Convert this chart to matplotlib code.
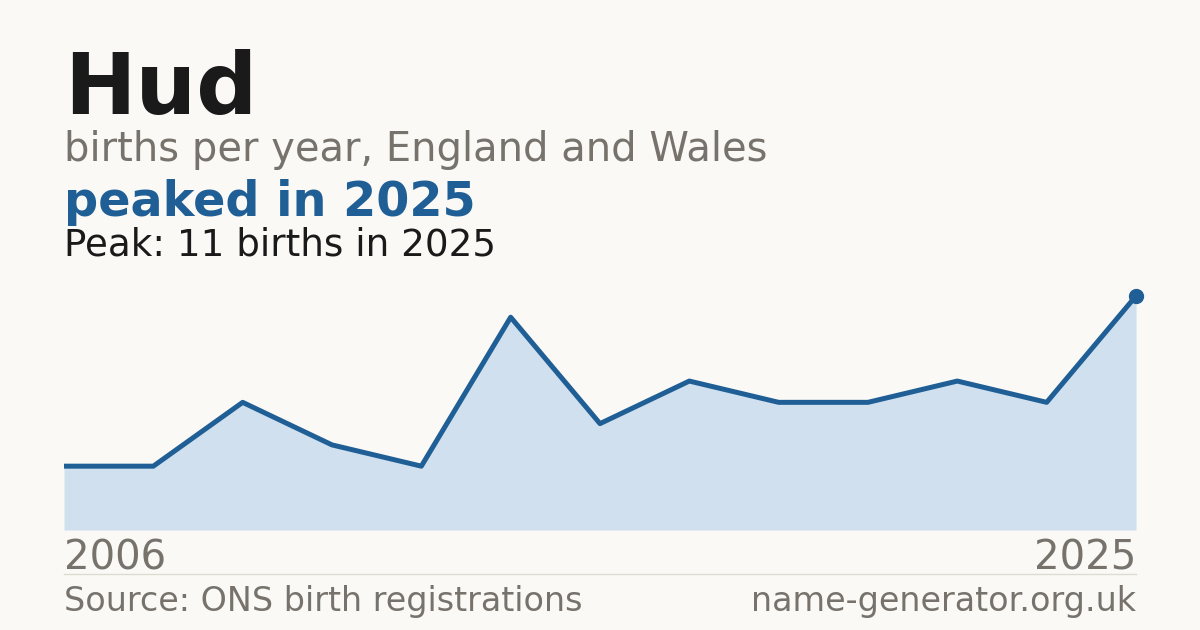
import numpy as np
import matplotlib
matplotlib.use('Agg')
import matplotlib.pyplot as plt

#________________Data___________________
first_year = 2006
last_year = 2025
births = [3, 3, 6, 4, 3, 10, 5, 7, 6, 6, 7, 6, 11]

title = 'Hud'
subtitle = 'births per year, England and Wales'
headline = 'peaked in 2025'
peak_text = 'Peak: 11 births in 2025'
source_text = 'Source: ONS birth registrations'
site_text = 'name-generator.org.uk'

#________________Style___________________
W, H = 1200, 630
bg = '#faf9f5'
dark = '#1a1a1a'
grey = '#77736c'
blue = '#1f5f96'
fill_col = '#d0e0ef'

plt.rcParams['font.family'] = ['DejaVu Sans']

fig = plt.figure(figsize=(W / 100, H / 100), dpi=100)
fig.patch.set_facecolor(bg)


def fy(py):
    # pixel row -> figure fraction
    return 1 - py / H


def fx(px):
    return px / W


left, right = 64, 1136
top, bottom = 280, 530

ax = fig.add_axes([fx(left), fy(bottom), fx(right - left), (bottom - top) / H])
ax.set_facecolor(bg)
x = np.arange(len(births))
ax.fill_between(x, births, 0, color=fill_col, linewidth=0)
ax.plot(x, births, color=blue, linewidth=3.6, solid_capstyle='butt', solid_joinstyle='round')
ax.plot(x[-1], births[-1], 'o', color=blue, markersize=10, clip_on=False)
ax.set_xlim(0, len(births) - 1)
ax.set_ylim(0, 11.75)
ax.axis('off')

# Texts
fig.text(fx(left), fy(114), title, fontsize=61.5, fontweight='bold', color=dark, va='baseline')
fig.text(fx(left), fy(161), subtitle, fontsize=28.8, color=grey, va='baseline')
fig.text(fx(left), fy(216), headline, fontsize=34.4, fontweight='bold', color=blue, va='baseline')
fig.text(fx(left), fy(256), peak_text, fontsize=26.8, color=dark, va='baseline')

fig.text(fx(left), fy(570), str(first_year), fontsize=29, color=grey, va='baseline')
fig.text(fx(right), fy(570), str(last_year), fontsize=29, color=grey, va='baseline', ha='right')

fig.add_artist(plt.Line2D([fx(left), fx(right)], [fy(574), fy(574)], color='#dedbd3', linewidth=1))

fig.text(fx(left), fy(611), source_text, fontsize=24, color=grey, va='baseline')
fig.text(fx(right), fy(611), site_text, fontsize=24, color=grey, va='baseline', ha='right')

fig.savefig('out.png', dpi=100, facecolor=bg)
